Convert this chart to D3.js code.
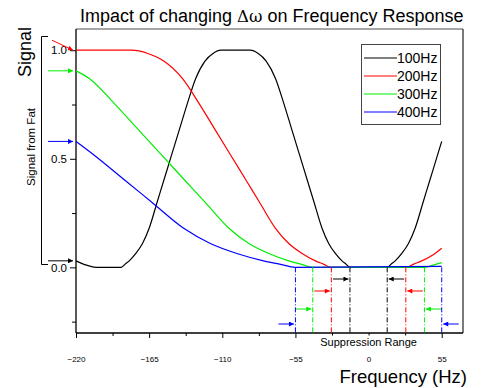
<!DOCTYPE html>
<html>
<head>
<meta charset="utf-8">
<script src="https://cdn.jsdelivr.net/npm/d3@7"></script>
<style>
  body { margin: 0; background: #fff; }
  svg { display: block; font-family: "Liberation Sans", Arial, sans-serif; }
</style>
</head>
<body>
<div id="chart"></div>
<script>
// series names and colours
const seriesNames = ['100Hz', '200Hz', '300Hz', '400Hz'];
const seriesColors = ['#000000', '#ff0000', '#00ee00', '#0000ff'];

// [frequency offset (Hz), signal]
const sig100 = [[-220, 0.03], [-212, 0.01], [-205, 0], [-186, 0], [-183, 0.015], [-180, 0.03], [-175, 0.064],
  [-170, 0.11], [-165, 0.18], [-159, 0.3], [-154, 0.4], [-148, 0.52], [-142, 0.64], [-136, 0.76], [-130, 0.87],
  [-123, 0.95], [-117, 0.985], [-111, 1.0], [-89, 1.0], [-83, 0.985], [-77, 0.95], [-70, 0.87], [-64, 0.76],
  [-58, 0.64], [-52, 0.52], [-46, 0.4], [-41, 0.3], [-35, 0.18], [-30, 0.11], [-25, 0.064], [-20, 0.03],
  [-17, 0.015], [-14, 0], [14, 0], [17, 0.015], [20, 0.03], [25, 0.064], [30, 0.11], [35, 0.18], [41, 0.3],
  [46, 0.4], [52, 0.52], [55, 0.58]];
const sig200 = [[-220, 1.0], [-178, 1.0], [-166, 0.985], [-154, 0.95], [-140, 0.87], [-128, 0.76], [-116, 0.64],
  [-104, 0.52], [-92, 0.4], [-82, 0.3], [-70, 0.18], [-60, 0.11], [-50, 0.064], [-40, 0.03], [-34, 0.015],
  [-28, 0], [28, 0], [34, 0.015], [40, 0.03], [50, 0.064], [55, 0.088]];
const sig300 = [[-220, 0.905], [-210, 0.87], [-192, 0.76], [-174, 0.64], [-156, 0.52], [-138, 0.4], [-123, 0.3],
  [-105, 0.18], [-90, 0.11], [-75, 0.064], [-60, 0.03], [-51, 0.015], [-42, 0], [42, 0], [51, 0.015], [55, 0.022]];
const sig400 = [[-220, 0.58], [-207, 0.52], [-183, 0.4], [-163, 0.3], [-139, 0.18], [-119, 0.11], [-99, 0.064],
  [-79, 0.03], [-67, 0.015], [-55, 0], [55, 0.005]];

// half-width of the suppression range of each series (Hz)
const suppression = [14, 28, 42, 55];

const xMajorTicks = [-220, -165, -110, -55, 0, 55];
const xMinorTicks = [-192.5, -137.5, -82.5, -27.5, 27.5];
const yMajorTicks = [0, 0.5, 1.0];
const yMinorTicks = [-0.25, 0.25, 0.75];

const allSeries = [sig100, sig200, sig300, sig400];

const width = 481;
const height = 388;
const plot = { left: 76, right: 463, top: 29, bottom: 333 };

const svg = d3.select('#chart')
  .append('svg')
  .attr('width', width)
  .attr('height', height);

const x = d3.scaleLinear().domain([-220, 71]).range([plot.left, plot.right]);
const y = d3.scaleLinear().domain([-0.3, 1.1]).range([plot.bottom - 0.5, plot.top - 0.5]);

// arrow heads
const defs = svg.append('defs');
seriesColors.forEach((c, i) => {
  defs.append('marker')
    .attr('id', 'head' + i)
    .attr('viewBox', '0 0 10 10')
    .attr('refX', 10)
    .attr('refY', 5)
    .attr('markerWidth', 7)
    .attr('markerHeight', 5)
    .attr('markerUnits', 'userSpaceOnUse')
    .attr('orient', 'auto')
    .append('path')
    .attr('d', 'M0,0L10,5L0,10Z')
    .attr('fill', c);
});

// title
const title = svg.append('text')
  .attr('x', 80)
  .attr('y', 22)
  .attr('font-size', 18)
  .attr('fill', '#000');
title.append('tspan').text('Impact of changing ');
title.append('tspan').attr('font-family', 'DejaVu Serif, serif').attr('font-size', 16.5).text('Δω');
title.append('tspan').text(' on Frequency Response');

// frame (top + right)
svg.append('line')
  .attr('x1', plot.left).attr('x2', plot.right)
  .attr('y1', plot.top).attr('y2', plot.top)
  .attr('stroke', '#888').attr('stroke-width', 1.5);
svg.append('line')
  .attr('x1', plot.right).attr('x2', plot.right)
  .attr('y1', plot.top).attr('y2', plot.bottom)
  .attr('stroke', '#222').attr('stroke-width', 1.2);

// y axis
svg.append('g')
  .attr('transform', `translate(${plot.left},0)`)
  .call(d3.axisLeft(y).tickValues(yMinorTicks).tickSize(4).tickFormat(''))
  .call(g => g.select('.domain').remove());
svg.append('g')
  .attr('class', 'yaxis')
  .attr('transform', `translate(${plot.left},0)`)
  .call(d3.axisLeft(y).tickValues(yMajorTicks).tickSizeInner(6).tickSizeOuter(0).tickPadding(3)
    .tickFormat(d3.format('.1f')))
  .call(g => g.selectAll('text').attr('font-size', 11.5).attr('font-family', 'Liberation Sans, Arial, sans-serif'))
  .call(g => g.select('.domain').attr('d', `M0,${plot.top}V${plot.bottom}`).attr('stroke-width', 1.3));

// x axis
svg.append('g')
  .attr('transform', `translate(0,${plot.bottom})`)
  .call(d3.axisBottom(x).tickValues(xMinorTicks).tickSize(3).tickFormat(''))
  .call(g => g.select('.domain').remove());
svg.append('g')
  .attr('transform', `translate(0,${plot.bottom})`)
  .call(d3.axisBottom(x).tickValues(xMajorTicks).tickSizeInner(5).tickSizeOuter(0).tickPadding(18))
  .call(g => g.selectAll('text').attr('font-size', 8).attr('font-family', 'Liberation Sans, Arial, sans-serif'))
  .call(g => g.select('.domain').attr('d', `M${plot.left},0H${plot.right}`).attr('stroke-width', 1.3));

// curves
const line = d3.line()
  .x(d => x(d[0]))
  .y(d => y(d[1]))
  .curve(d3.curveMonotoneX);

allSeries.forEach((s, i) => {
  svg.append('path')
    .datum(s)
    .attr('d', line)
    .attr('fill', 'none')
    .attr('stroke', seriesColors[i])
    .attr('stroke-width', 1.2);
});

// suppression range markers (dash-dot lines + arrows)
const arrowRows = [279, 291, 309, 324];
suppression.forEach((r, i) => {
  [-r, r].forEach(f => {
    svg.append('line')
      .attr('x1', x(f)).attr('x2', x(f))
      .attr('y1', y(0)).attr('y2', plot.bottom)
      .attr('stroke', seriesColors[i])
      .attr('stroke-width', 1)
      .attr('stroke-dasharray', '5,2,1,2');
    const dir = f < 0 ? 1 : -1;
    svg.append('line')
      .attr('x1', x(f) - dir * 17).attr('x2', x(f) - dir * 1.5)
      .attr('y1', arrowRows[i]).attr('y2', arrowRows[i])
      .attr('stroke', seriesColors[i])
      .attr('stroke-width', 1)
      .attr('marker-end', `url(#head${i})`);
  });
});

// arrows pointing at the starting value of each curve
allSeries.forEach((s, i) => {
  const ty = y(s[0][1]);
  const sx = i === 1 ? 52 : 48;
  const sy = i === 1 ? ty - 10 : ty;
  svg.append('line')
    .attr('x1', sx).attr('y1', sy)
    .attr('x2', 73).attr('y2', ty)
    .attr('stroke', seriesColors[i])
    .attr('stroke-width', 1)
    .attr('marker-end', `url(#head${i})`);
});

// "Suppression Range" label
svg.append('rect')
  .attr('x', 318).attr('y', 335.5)
  .attr('width', 104).attr('height', 13)
  .attr('fill', '#fff');
svg.append('text')
  .attr('x', x(0))
  .attr('y', 346)
  .attr('text-anchor', 'middle')
  .attr('font-size', 11)
  .text('Suppression Range');

// axis titles
svg.append('text')
  .attr('x', 467)
  .attr('y', 383)
  .attr('text-anchor', 'end')
  .attr('font-size', 18.5)
  .text('Frequency (Hz)');

svg.append('text')
  .attr('transform', 'translate(31,52) rotate(-90)')
  .attr('text-anchor', 'middle')
  .attr('font-size', 18)
  .text('Signal');

svg.append('text')
  .attr('transform', 'translate(35,147) rotate(-90)')
  .attr('text-anchor', 'middle')
  .attr('font-size', 11.5)
  .text('Signal from Fat');

// bracket joining "Signal from Fat" to the axis
svg.append('path')
  .attr('d', 'M48,36.5H41.5V264.5H48')
  .attr('fill', 'none')
  .attr('stroke', '#000')
  .attr('stroke-width', 1);

// legend
const legend = svg.append('g').attr('transform', 'translate(361,44)');
legend.append('rect')
  .attr('x', 0.5).attr('y', 0.5)
  .attr('width', 79).attr('height', 80)
  .attr('fill', '#fff')
  .attr('stroke', '#444');
seriesNames.forEach((n, i) => {
  const ly = 14 + i * 18;
  legend.append('line')
    .attr('x1', 3).attr('x2', 36)
    .attr('y1', ly).attr('y2', ly)
    .attr('stroke', seriesColors[i])
    .attr('stroke-width', 1.2);
  legend.append('text')
    .attr('x', 36)
    .attr('y', ly)
    .attr('dy', '0.36em')
    .attr('font-size', 14)
    .text(n);
});
</script>
</body>
</html>
